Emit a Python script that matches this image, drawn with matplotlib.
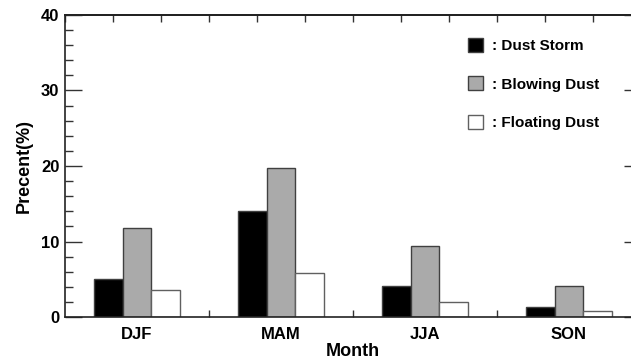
import numpy as np
import matplotlib
matplotlib.use("Agg")
import matplotlib.pyplot as plt
from matplotlib.ticker import MultipleLocator, FixedLocator

plt.rcParams["font.family"] = ["Liberation Sans", "DejaVu Sans"]
plt.rcParams["font.weight"] = "bold"

seasons = ["DJF", "MAM", "JJA", "SON"]
dust_storm = [5.0, 14.0, 4.1, 1.3]
blowing_dust = [11.8, 19.7, 9.4, 4.1]
floating_dust = [3.6, 5.8, 2.0, 0.8]

fig = plt.figure(figsize=(6.31, 3.61), dpi=100)
ax = fig.add_axes([65 / 631, 44 / 361, 576 / 631, 302 / 361])

x = np.arange(len(seasons))
w = 0.2
edge = "#404040"
ax.bar(x - w, dust_storm, w, color="black", edgecolor=edge, linewidth=1, label=": Dust Storm")
ax.bar(x, blowing_dust, w, color="#aaaaaa", edgecolor=edge, linewidth=1, label=": Blowing Dust")
ax.bar(x + w, floating_dust, w, color="white", edgecolor="#606060", linewidth=1, label=": Floating Dust")

ax.set_xlim(-0.5, 3.5)
ax.set_ylim(0, 40)

for s in ax.spines.values():
    s.set_linewidth(1.2)
    s.set_color("#222222")

ax.set_xticks(x)
ax.set_xticklabels(seasons, fontsize=12, fontweight="bold")
ax.xaxis.set_minor_locator(FixedLocator([0.5, 1.5, 2.5]))
ax.tick_params(axis="x", which="major", length=0, pad=7)
ax.tick_params(axis="x", which="minor", direction="in", length=5, width=1, color="#333333")

ax.yaxis.set_major_locator(MultipleLocator(10))
ax.yaxis.set_minor_locator(MultipleLocator(2))
ax.tick_params(axis="y", which="major", direction="in", length=12, width=1, pad=4,
               labelsize=12, color="#333333")
ax.tick_params(axis="y", which="minor", direction="in", length=6, width=1, color="#333333")
for lbl in ax.get_yticklabels():
    lbl.set_fontweight("bold")

top = ax.secondary_xaxis("top")
top.set_xticks(-0.5 + np.arange(13) / 3)
top.tick_params(direction="in", length=5, width=1, color="#333333", labeltop=False)
top.spines["top"].set_linewidth(1.2)

right = ax.secondary_yaxis("right")
right.yaxis.set_major_locator(MultipleLocator(10))
right.yaxis.set_minor_locator(MultipleLocator(2))
right.tick_params(which="major", direction="in", length=12, width=1, color="#333333", labelright=False)
right.tick_params(which="minor", direction="in", length=6, width=1, color="#333333")

ax.set_xlabel("Month", fontsize=13, fontweight="bold", labelpad=1)
ax.set_ylabel("Precent(%)", fontsize=13, fontweight="bold", labelpad=6)

ax.legend(loc="upper left", bbox_to_anchor=(0.6997, 0.925), frameon=False,
          fontsize=11, handlelength=1.0, handleheight=1.05, handletextpad=0.6,
          labelspacing=1.53, borderaxespad=0, borderpad=0)

fig.savefig("out.png", dpi=100)
